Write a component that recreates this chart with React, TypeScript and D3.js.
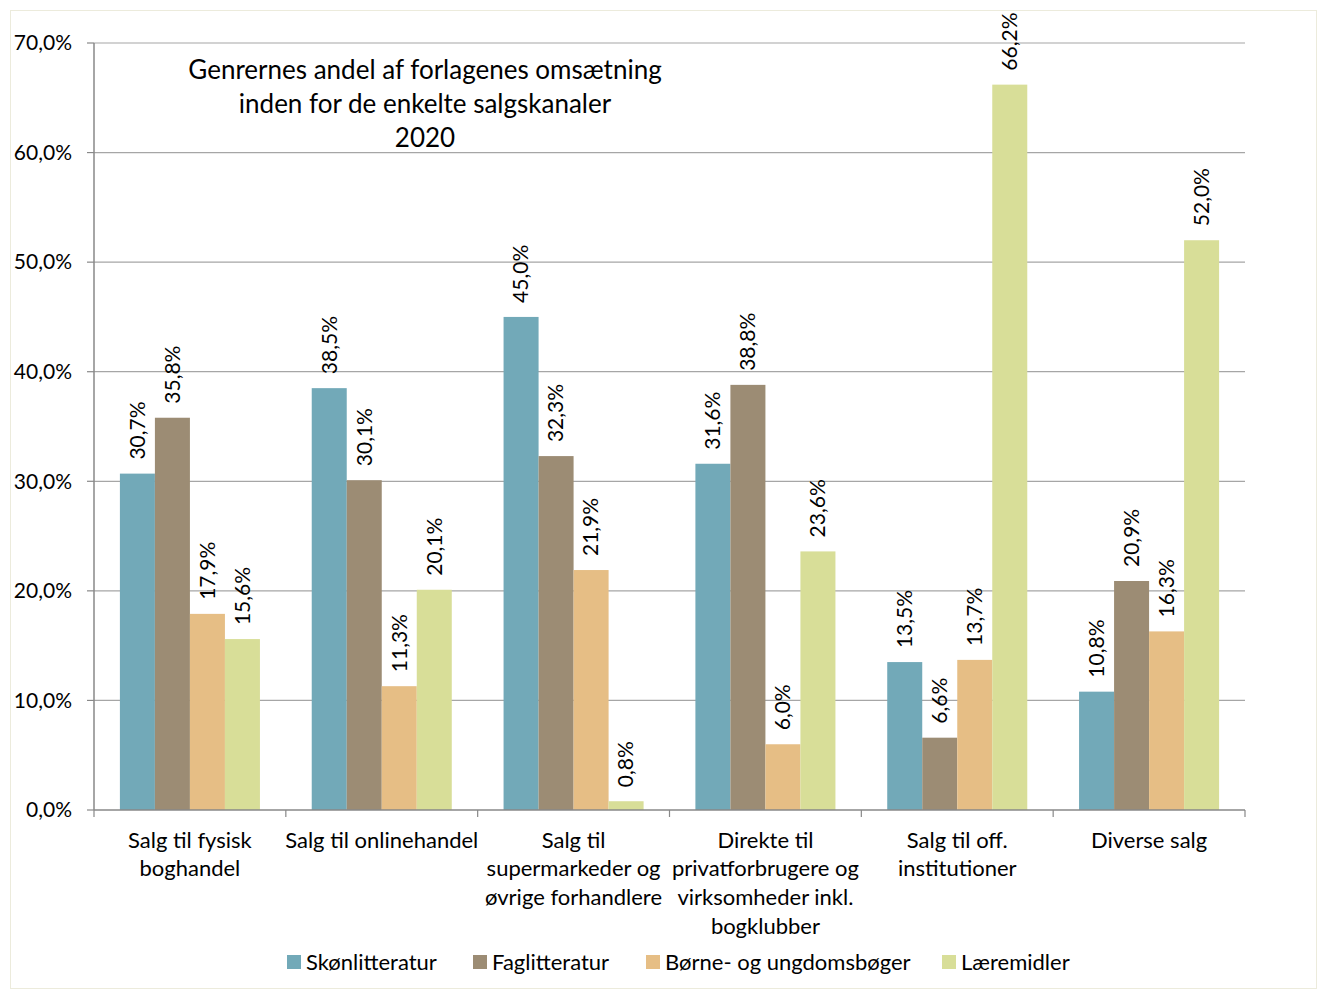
import React from "react";
import * as d3 from "d3";

const categories: string[][] = [
  ["Salg til fysisk", "boghandel"],
  ["Salg til onlinehandel"],
  ["Salg til", "supermarkeder og", "øvrige forhandlere"],
  ["Direkte til", "privatforbrugere og", "virksomheder inkl.", "bogklubber"],
  ["Salg til off.", "institutioner"],
  ["Diverse salg"],
];
const seriesNames = ["Skønlitteratur", "Faglitteratur", "Børne- og ungdomsbøger", "Læremidler"];
const skoen = [30.7, 38.5, 45.0, 31.6, 13.5, 10.8];
const fag = [35.8, 30.1, 32.3, 38.8, 6.6, 20.9];
const boerne = [17.9, 11.3, 21.9, 6.0, 13.7, 16.3];
const laere = [15.6, 20.1, 0.8, 23.6, 66.2, 52.0];
const yTicks = [0, 10, 20, 30, 40, 50, 60, 70];
const colors = ["#72a9b8", "#9c8c74", "#e6be85", "#d8de98"];
const titleLines = ["Genrernes andel af forlagenes omsætning", "inden for de enkelte salgskanaler", "2020"];

const FONT = "Lato, 'Open Sans', sans-serif";

export default function App() {
  const W = 1318, H = 990;
  const left = 94, right = 1245, top = 43, bottom = 810;
  const series = [skoen, fag, boerne, laere];
  const x = d3.scaleBand<number>().domain(d3.range(categories.length)).range([left, right]).paddingInner(0.27).paddingOuter(0.135);
  const xs = d3.scaleBand<number>().domain(d3.range(series.length)).range([0, x.bandwidth()]);
  const y = d3.scaleLinear().domain([0, 70]).range([bottom, top]);
  const fmt = (v: number) => v.toFixed(1).replace(".", ",") + "%";
  const step = (right - left) / categories.length;
  const legendX = [287, 473, 646, 942];

  return (
    <svg width={W} height={H} style={{ position: "absolute", left: 0, top: 0, fontFamily: FONT }}>
      <rect x={0} y={0} width={W} height={H} fill="#fff" />
      <rect x={10.5} y={10.5} width={W - 12} height={H - 12} fill="none" stroke="#ecebdc" strokeWidth={1} />
      {yTicks.map((t) => (
        <g key={t}>
          {t > 0 && <line x1={left} x2={right} y1={y(t)} y2={y(t)} stroke="#a6a6a6" strokeWidth={1.2} />}
          <line x1={left - 7} x2={left} y1={y(t)} y2={y(t)} stroke="#888" strokeWidth={1.2} />
          <text x={72} y={y(t)} dy="0.35em" textAnchor="end" fontSize={21} fill="#000">{fmt(t)}</text>
        </g>
      ))}
      {series.map((vals, si) =>
        vals.map((v, ci) => {
          const bx = (x(ci) as number) + (xs(si) as number);
          return (
            <g key={`${si}-${ci}`}>
              <rect x={bx} y={y(v)} width={xs.bandwidth()} height={bottom - y(v)} fill={colors[si]} />
              <text
                transform={`translate(${bx + xs.bandwidth() / 2},${y(v) - 14}) rotate(-90)`}
                dy="0.35em"
                textAnchor="start"
                fontSize={21}
                fill="#000"
              >
                {fmt(v)}
              </text>
            </g>
          );
        })
      )}
      <line x1={left} x2={left} y1={top} y2={bottom} stroke="#888" strokeWidth={1.5} />
      <line x1={left} x2={right} y1={bottom} y2={bottom} stroke="#888" strokeWidth={1.5} />
      {d3.range(categories.length + 1).map((i) => (
        <line key={i} x1={left + i * step} x2={left + i * step} y1={bottom} y2={bottom + 7} stroke="#888" strokeWidth={1.2} />
      ))}
      {categories.map((lines, ci) => (
        <text key={ci} x={(x(ci) as number) + x.bandwidth() / 2} y={840} textAnchor="middle" fontSize={22} fill="#000">
          {lines.map((l, li) => (
            <tspan key={li} x={(x(ci) as number) + x.bandwidth() / 2} y={840 + li * 28.7} dy="0.35em">{l}</tspan>
          ))}
        </text>
      ))}
      {titleLines.map((l, i) => (
        <text key={i} x={425} y={70 + i * 34} dy="0.35em" textAnchor="middle" fontSize={26} fill="#000">{l}</text>
      ))}
      {seriesNames.map((n, i) => (
        <g key={n}>
          <rect x={legendX[i]} y={955} width={14} height={14} fill={colors[i]} />
          <text x={legendX[i] + 19} y={962} dy="0.35em" fontSize={22} fill="#000">{n}</text>
        </g>
      ))}
    </svg>
  );
}
